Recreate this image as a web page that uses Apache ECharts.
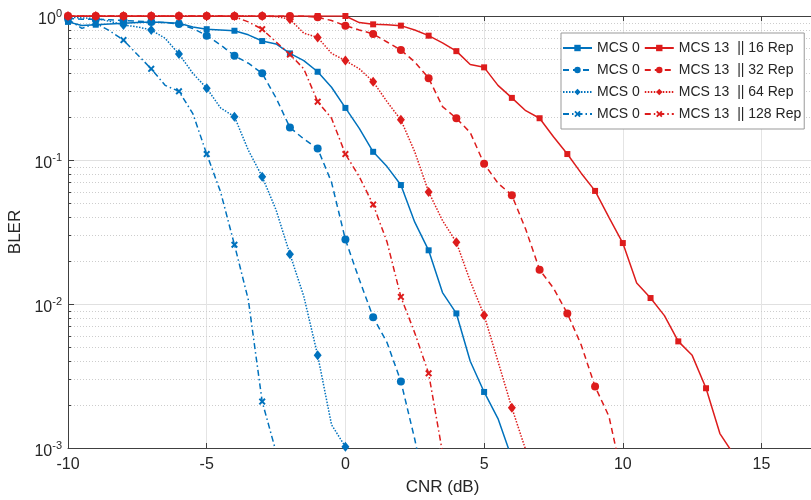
<!DOCTYPE html>
<html><head><meta charset="utf-8">
<script src="https://cdn.jsdelivr.net/npm/echarts@6/dist/echarts.min.js"></script>
<style>html,body{margin:0;padding:0;background:#fff}#c{width:811px;height:500px}</style>
</head><body><div id="c"></div>
<script>
// CNR grid (dB)
const cnr = [-10,-9.5,-9,-8.5,-8,-7.5,-7,-6.5,-6,-5.5,-5,-4.5,-4,-3.5,-3,-2.5,-2,-1.5,-1,-0.5,
  0,0.5,1,1.5,2,2.5,3,3.5,4,4.5,5,5.5,6,6.5,7,7.5,8,8.5,9,9.5,10,10.5,11,11.5,12,12.5,13,13.5,14];

// BLER values (MCS 0, blue)
const mcs0_16  = [0.91,0.86,0.87,0.88,0.89,0.9,0.91,0.9,0.89,0.84,0.81,0.80,0.79,0.74,0.67,0.64,0.55,0.49,0.41,0.32,
  0.23,0.166,0.114,0.09,0.067,0.037,0.0236,0.012,0.0086,0.004,0.00245,0.0016,0.00085];
const mcs0_32  = [0.96,0.95,0.95,0.94,0.93,0.92,0.91,0.9,0.88,0.82,0.73,0.63,0.53,0.47,0.40,0.27,0.168,0.14,0.12,0.07,
  0.028,0.0148,0.0081,0.0054,0.0029,0.00115,0.0004];
const mcs0_64  = [0.98,0.97,0.96,0.92,0.866,0.84,0.8,0.7,0.545,0.4,0.315,0.23,0.2,0.117,0.0766,0.045,0.0222,0.0113,0.0044,0.00145,
  0.00102];
const mcs0_128 = [0.95,0.82,0.89,0.79,0.68,0.54,0.43,0.33,0.30,0.21,0.11,0.06,0.0258,0.0107,0.0021,0.00094];

// BLER values (MCS 13, red)
const mcs13_16  = [1,1,1,1,1,1,1,1,1,1,1,1,1,1,1,1,1,1,1,1,
  1,0.9,0.875,0.87,0.857,0.8,0.73,0.65,0.57,0.46,0.44,0.33,0.27,0.22,0.195,0.145,0.11,0.081,0.061,0.04,
  0.0265,0.014,0.011,0.0083,0.0055,0.0044,0.0026,0.00126,0.0009];
const mcs13_32  = [1,1,1,1,1,1,1,1,1,1,1,1,1,1,1,1,1,1,0.98,0.93,
  0.857,0.8,0.75,0.66,0.58,0.48,0.37,0.235,0.195,0.155,0.094,0.069,0.057,0.033,0.0173,0.0129,0.0086,0.0052,0.00267,0.00166,
  0.0006];
const mcs13_64  = [1,1,1,1,1,1,1,1,1,1,1,1,1,1,1,0.99,0.95,0.76,0.71,0.55,
  0.49,0.43,0.35,0.254,0.19,0.114,0.06,0.038,0.0268,0.0144,0.00835,0.004,0.0019,0.00097];
const mcs13_128 = [1,1,1,1,1,1,1,1,1,1,1,1,0.99,0.91,0.81,0.66,0.54,0.43,0.254,0.195,
  0.11,0.0766,0.049,0.027,0.0112,0.0063,0.0033,0.00093];

// ticks
const xTicks = [-10,-5,0,5,10,15];
const yMinor = [0.002,0.003,0.004,0.005,0.006,0.007,0.008,0.009,
  0.02,0.03,0.04,0.05,0.06,0.07,0.08,0.09,
  0.2,0.3,0.4,0.5,0.6,0.7,0.8,0.9];

const legendNames = {
  b16:'MCS 0', r16:'MCS 13  || 16 Rep',
  b32:'MCS 0', r32:'MCS 13  || 32 Rep',
  b64:'MCS 0', r64:'MCS 13  || 64 Rep',
  b128:'MCS 0', r128:'MCS 13  || 128 Rep'
};

const BLUE = '#0072BD', RED = '#DD1C1C';
const FONT = '"Liberation Sans", Arial, Helvetica, sans-serif';
const AX = '#404040';
const XPATH = 'path://M2,0L5,3L8,0L10,2L7,5L10,8L8,10L5,7L2,10L0,8L3,5L0,2Z';

function pts(vals){
  return vals.map((v,i)=> Number.isInteger(cnr[i]) ? [cnr[i], v] : {value:[cnr[i], v], symbol:'none'});
}
function mk(name, vals, color, type, symbol, size){
  return {
    name, type:'line', data: pts(vals), symbol, symbolSize:size, showSymbol:true,
    lineStyle:{color, width:1.5, type}, itemStyle:{color}, clip:true, z:3,
    emphasis:{disabled:true}, animation:false
  };
}

const series = [
  mk('b16', mcs0_16, BLUE, 'solid', 'rect', 6),
  mk('b32', mcs0_32, BLUE, [6,4], 'circle', 8),
  mk('b64', mcs0_64, BLUE, [1.5,1.5], 'diamond', [8,10]),
  mk('b128', mcs0_128, BLUE, [6,3,1.5,3], XPATH, 7),
  mk('r16', mcs13_16, RED, 'solid', 'rect', 6),
  mk('r32', mcs13_32, RED, [6,4], 'circle', 8),
  mk('r64', mcs13_64, RED, [1.5,1.5], 'diamond', [8,10]),
  mk('r128', mcs13_128, RED, [6,3,1.5,3], XPATH, 7),
  {
    type:'custom', silent:true, z:1, animation:false,
    data: yMinor.map(v=>[-10, v]), encode:{x:0, y:1},
    renderItem: function(params, api){
      const cs = params.coordSys;
      const y = Math.round(api.coord([api.value(0), api.value(1)])[1]) + 0.5;
      return {type:'group', children:[
        {type:'line', shape:{x1:cs.x, y1:y, x2:cs.x+cs.width, y2:y}, style:{stroke:'#cdcdcd', lineWidth:1, lineDash:[1,2]}},
        {type:'line', shape:{x1:cs.x, y1:y, x2:cs.x+3, y2:y}, style:{stroke:AX, lineWidth:1}}
      ]};
    }
  }
];

const chart = echarts.init(document.getElementById('c'), null, {renderer:'canvas'});
chart.setOption({
  animation:false,
  backgroundColor:'#fff',
  grid:{left:68, top:16, width:749, height:432, containLabel:false, outerBoundsMode:'none'},
  xAxis:[{
    type:'value', min:-10, max:17, interval:5, position:'bottom',
    name:'CNR (dB)', nameLocation:'middle', nameGap:31,
    nameTextStyle:{fontSize:17, color:'#262626', fontFamily:FONT},
    axisLine:{show:true, onZero:false, lineStyle:{color:AX, width:1}},
    axisTick:{show:true, inside:true, length:5, lineStyle:{color:AX}},
    axisLabel:{fontSize:16, color:'#262626', fontFamily:FONT, margin:9,
      formatter: v => xTicks.includes(v) ? String(v) : ''},
    splitLine:{show:true, lineStyle:{color:'#e4e4e4', width:1}}
  },{
    type:'value', min:-10, max:17, interval:5, position:'top',
    axisLine:{show:true, onZero:false, lineStyle:{color:AX, width:1}},
    axisTick:{show:true, inside:true, length:5, lineStyle:{color:AX}},
    axisLabel:{show:false}, splitLine:{show:false}
  }],
  yAxis:{
    type:'log', logBase:10, min:0.001, max:1,
    name:'BLER', nameLocation:'middle', nameGap:40,
    nameTextStyle:{fontSize:17, color:'#262626', fontFamily:FONT},
    axisLine:{show:true, onZero:false, lineStyle:{color:AX, width:1}},
    axisTick:{show:true, inside:true, length:6, lineStyle:{color:AX}},
    axisLabel:{
      margin:6, fontFamily:FONT, color:'#262626',
      formatter: v => '{b|10}{s|' + Math.round(Math.log10(v)) + '}',
      rich:{
        b:{fontSize:16, lineHeight:16, padding:[8,0,0,0], color:'#262626', fontFamily:FONT},
        s:{fontSize:11, lineHeight:11, verticalAlign:'top', color:'#262626', fontFamily:FONT}
      }
    },
    splitLine:{show:true, lineStyle:{color:'#e0e0e0', width:1}}
  },
  legend:{
    data:['b16','r16','b32','r32','b64','r64','b128','r128'],
    left:561, top:33, width:260, orient:'horizontal',
    itemWidth:29, itemHeight:8, itemGap:4,
    padding:[6,3,6,1],
    backgroundColor:'#fff', borderColor:'#999', borderWidth:1, borderRadius:0,
    textStyle:{fontSize:14, lineHeight:18, color:'#262626', fontFamily:FONT},
    formatter: n => legendNames[n],
    selectedMode:false
  },
  series
});
</script>
</body></html>
